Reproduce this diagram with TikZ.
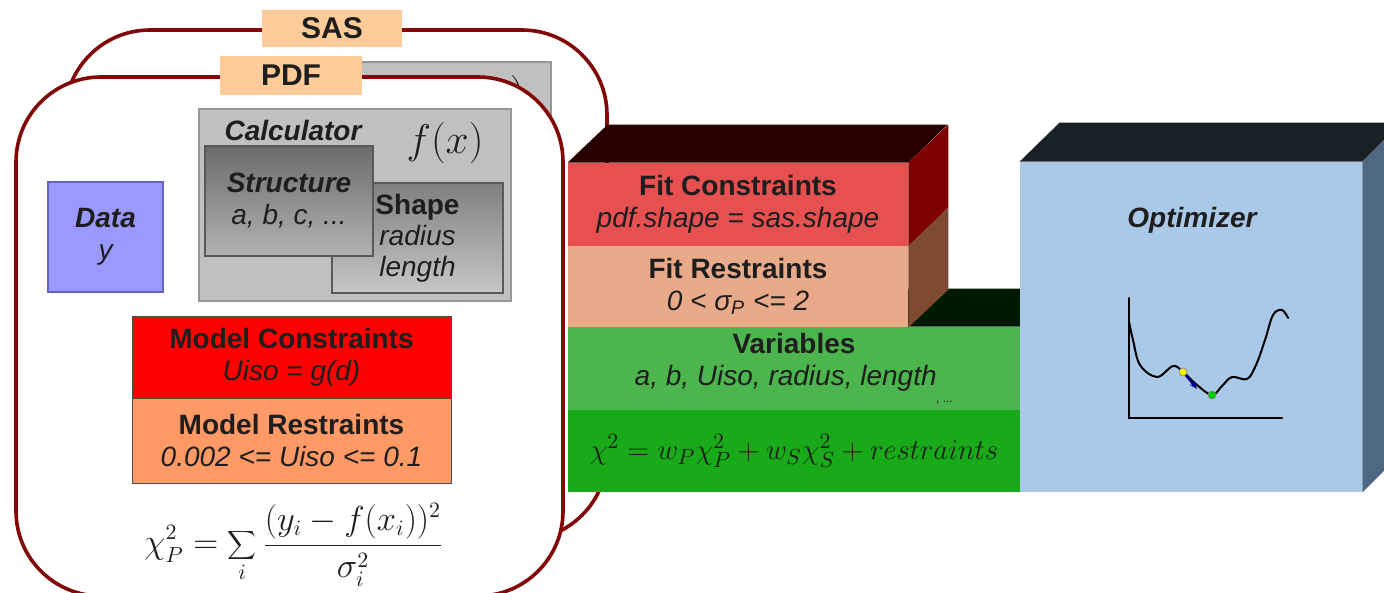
\documentclass[tikz,border=0pt]{standalone}
\usepackage{fontspec}
\setmainfont{Liberation Sans}
\usetikzlibrary{fit,arrows.meta}

\definecolor{framered}{RGB}{130,8,8}
\definecolor{tagpeach}{RGB}{255,204,153}
\definecolor{ink}{RGB}{30,30,30}
\definecolor{calcgray}{RGB}{192,192,192}
\definecolor{calcedge}{RGB}{150,150,150}
\definecolor{datablue}{RGB}{153,153,255}
\definecolor{dataedge}{RGB}{100,100,200}
\definecolor{mconsred}{RGB}{255,0,0}
\definecolor{mrestorange}{RGB}{255,153,102}
\definecolor{fconsred}{RGB}{230,80,80}
\definecolor{frestpink}{RGB}{233,170,138}
\definecolor{varsgreen}{RGB}{77,181,77}
\definecolor{chigreen}{RGB}{24,170,24}
\definecolor{optblue}{RGB}{170,200,232}
\definecolor{topred}{RGB}{40,0,0}
\definecolor{sidered}{RGB}{128,0,0}
\definecolor{sidebrown}{RGB}{126,74,50}
\definecolor{topgreen}{RGB}{0,26,0}
\definecolor{topblue}{RGB}{26,32,40}
\definecolor{sideblue}{RGB}{79,104,130}

\begin{document}
\begin{tikzpicture}[
  x=0.5pt, y=-0.5pt,
  font=\fontsize{14}{16}\selectfont,
  frame/.style={draw=framered, line width=1.8pt, rounded corners=42.5pt, fill=white},
  tag/.style={fill=tagpeach, inner sep=0pt},
  tagtxt/.style={inner sep=0pt, text=ink, font=\fontsize{15}{18}\selectfont\bfseries},
  box/.style={inner sep=0pt},
  txt/.style={inner sep=0pt, align=center, text=ink},
  calc/.style={box, fill=calcgray, draw=calcedge, line width=0.8pt},
  greybox/.style={box, draw=black!65, line width=0.6pt},
  lbl/.style={inner sep=0pt, text=ink},
  curve/.style={line width=1pt, line cap=round},
  steparrow/.style={-{Stealth[length=4pt]}, draw=blue!60!black, line width=1pt},
  dot/.style={circle, inner sep=0pt, minimum size=4pt, draw=black!50, line width=0.3pt},
]
\fill[white] (0,0) rectangle (1384,593);
\useasboundingbox (0,0) rectangle (1384,593);

% SAS part, behind
\draw[frame] (65,30) rectangle (607,540);
\node[calc, fit={(239,62) (551,254)}] (sascalc) {};
\node[lbl, anchor=north east, font=\fontsize{21}{24}\selectfont] (sasfx) at (525,75) {$f(x)$};
\node[tag, fit={(262,10) (402,47)}] (sastag) {};
\node[tagtxt] (sastxt) at (sastag.center) {SAS};

% PDF part
\draw[frame] (16,77) rectangle (563,596);
\node[tag, fit={(220,56) (362,95)}] (pdftag) {};
\node[tagtxt] (pdftxt) at (pdftag.center) {PDF};

\node[calc, fit={(199,109) (511,301)}] (calc) {};
\node[lbl, font=\fontsize{14}{16}\selectfont\bfseries\itshape] (calclbl) at (293,130) {Calculator};
\node[lbl, font=\fontsize{21}{24}\selectfont] (fx) at (445,143) {$f(x)$};
\node[greybox, top color=black!50, bottom color=black!22, fit={(332,183) (503,293)}] (shape) {};
\node[txt, font=\fontsize{14}{15.5}\selectfont] (shapetxt) at (shape.center)
  {{\bfseries Shape}\\{\itshape radius}\\{\itshape length}};
\node[greybox, top color=black!58, bottom color=black!30, fit={(205,146) (373,256)}] (struct) {};
\node[txt] (structtxt) at (struct.center) {{\bfseries\itshape Structure}\\{\itshape a, b, c, ...}};

\node[box, fill=datablue, draw=dataedge, line width=0.8pt, fit={(48,182) (163,292)}] (data) {};
\node[txt] (datatxt) at (data.center) {{\bfseries\itshape Data}\\{\itshape y}};

\node[box, fill=mconsred, draw=black!70, line width=0.5pt, fit={(132,316) (451,398)}] (mcons) {};
\node[txt] (mconstxt) at (mcons.center) {{\bfseries Model Constraints}\\{\itshape Uiso = g(d)}};
\node[box, fill=mrestorange, draw=black!70, line width=0.5pt, fit={(132,398) (451,483)}] (mrest) {};
\node[txt] (mresttxt) at (mrest.center) {{\bfseries Model Restraints}\\{\itshape 0.002 <= Uiso <= 0.1}};

\node[lbl, font=\fontsize{16}{18}\selectfont] (chip) at (294,545)
  {$\displaystyle \chi^2_P = \sum_i \frac{(y_i - f(x_i))^2}{\sigma_i^2}$};

% fit stack
\node[box, fill=varsgreen, fit={(568,327) (1020,410)}] (vars) {};
\fill[topgreen] (vars.north west) -- ++(40,-38) -- ++(452,0) -- (vars.north east) -- cycle;
\node[txt] (varstxt) at (vars.center)
  {{\bfseries Variables}\\{\itshape a, b, Uiso, radius, length\raisebox{-1.2ex}{\fontsize{6}{6}\selectfont, ...}}};
\node[box, fill=chigreen, fit={(568,410) (1020,492)}] (chi) {};
\node[txt, font=\fontsize{15}{18}\selectfont] (chitxt) at (chi.center)
  {$\chi^2 = w_P\chi^2_P + w_S\chi^2_S + restraints$};
\node[box, fill=fconsred, fit={(568,163) (908,246)}] (fcons) {};
\node[txt] (fconstxt) at (fcons.center) {{\bfseries Fit Constraints}\\{\itshape pdf.shape = sas.shape}};
\node[box, fill=frestpink, fit={(568,246) (908,327)}] (frest) {};
\node[txt] (fresttxt) at (frest.center) {{\bfseries Fit Restraints}\\{\itshape 0 < σ\textsubscript{P} <= 2}};
\fill[topred] (fcons.north west) -- ++(40,-38) -- ++(340,0) -- (fcons.north east) -- cycle;
\fill[sidered] (fcons.north east) -- ++(40,-38) -- ++(0,83) -- (fcons.south east) -- cycle;
\fill[sidebrown] (frest.north east) -- ++(40,-38) -- ++(0,82) -- (frest.south east) -- cycle;

% optimizer
\node[box, fill=optblue, fit={(1020,162) (1362,492)}] (opt) {};
\fill[topblue] (opt.north west) -- ++(40,-39) -- ++(342,0) -- (opt.north east) -- cycle;
\fill[sideblue] (opt.north east) -- ++(40,-39) -- ++(0,330) -- (opt.south east) -- cycle;
\node[lbl, font=\fontsize{14}{16}\selectfont\bfseries\itshape] (optlbl) at (1192,220) {Optimizer};

\draw[curve] (1129,298) -- (1129,418) -- (1282,418);
\draw[curve] plot[smooth, tension=0.6] coordinates {(1129,322) (1133,340) (1140,365) (1157,377)
  (1173,366) (1183,372) (1197,385) (1212,395) (1222,386) (1232,377) (1247,379) (1256,365)
  (1265,340) (1273,315) (1282,310) (1288,318)};
\node[dot, fill=yellow] (start) at (1183,372) {};
\node[dot, fill=green!80!black] (best) at (1212,395) {};
\coordinate (next) at (1197,389);
\draw[steparrow] (start) -- (next);
\end{tikzpicture}
\end{document}
